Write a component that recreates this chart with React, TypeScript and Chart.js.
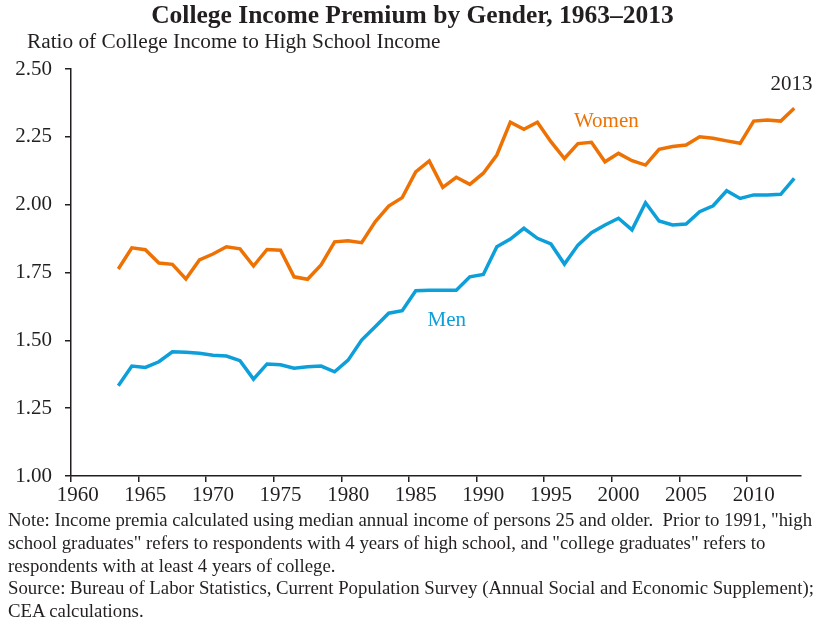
import React, { useEffect, useRef } from "react";
import { Chart, registerables } from "chart.js";

Chart.register(...registerables);

const years: number[] = [
  1963, 1964, 1965, 1966, 1967, 1968, 1969, 1970, 1971, 1972,
  1973, 1974, 1975, 1976, 1977, 1978, 1979, 1980, 1981, 1982,
  1983, 1984, 1985, 1986, 1987, 1988, 1989, 1990, 1991, 1992,
  1993, 1994, 1995, 1996, 1997, 1998, 1999, 2000, 2001, 2002,
  2003, 2004, 2005, 2006, 2007, 2008, 2009, 2010, 2011, 2012, 2013,
];

const women: number[] = [
  1.763, 1.841, 1.834, 1.785, 1.780, 1.726, 1.796, 1.818, 1.845, 1.837,
  1.774, 1.835, 1.832, 1.734, 1.725, 1.778, 1.863, 1.867, 1.860, 1.937,
  1.995, 2.026, 2.121, 2.161, 2.064, 2.101, 2.075, 2.116, 2.183, 2.304,
  2.278, 2.304, 2.232, 2.170, 2.225, 2.230, 2.158, 2.189, 2.162, 2.146,
  2.204, 2.214, 2.220, 2.250, 2.245, 2.235, 2.226, 2.308, 2.312, 2.308, 2.355,
];

const men: number[] = [
  1.333, 1.405, 1.400, 1.421, 1.458, 1.456, 1.452, 1.445, 1.442, 1.425,
  1.357, 1.413, 1.410, 1.397, 1.403, 1.405, 1.384, 1.427, 1.501, 1.550,
  1.600, 1.609, 1.683, 1.685, 1.685, 1.685, 1.734, 1.743, 1.845, 1.873,
  1.913, 1.876, 1.855, 1.781, 1.851, 1.897, 1.925, 1.950, 1.907, 2.007,
  1.940, 1.925, 1.929, 1.974, 1.996, 2.051, 2.023, 2.036, 2.036, 2.038, 2.097,
];

const xTickValues: number[] = [1960, 1965, 1970, 1975, 1980, 1985, 1990, 1995, 2000, 2005, 2010];
const yTickValues: number[] = [1.0, 1.25, 1.5, 1.75, 2.0, 2.25, 2.5];

const seriesNames: string[] = ["Women", "Men"];
const lastYearLabel = "2013";

const title = "College Income Premium by Gender, 1963\u20132013";
const subtitle = "Ratio of College Income to High School Income";
const noteLines: string[] = [
  'Note: Income premia calculated using median annual income of persons 25 and older.  Prior to 1991, "high',
  'school graduates" refers to respondents with 4 years of high school, and "college graduates" refers to',
  "respondents with at least 4 years of college.",
  "Source: Bureau of Labor Statistics, Current Population Survey (Annual Social and Economic Supplement);",
  "CEA calculations.",
];

const ORANGE = "#EE7203";
const BLUE = "#0C9FD9";
const INK = "#231F20";
const FONT = "'Liberation Serif', 'Times New Roman', serif";

const W = 825;
const H = 619;
const AREA = { left: 71, right: 801, top: 69, bottom: 476 };

const labelPlugin = {
  id: "seriesLabels",
  afterDatasetsDraw(chart: any) {
    const { ctx, scales } = chart;
    const xs = scales.x;
    const ys = scales.y;
    ctx.save();
    ctx.font = `21px ${FONT}`;
    ctx.textAlign = "center";
    ctx.textBaseline = "middle";
    ctx.fillStyle = ORANGE;
    ctx.fillText(seriesNames[0], xs.getPixelForValue(1999.6), ys.getPixelForValue(2.305));
    ctx.fillStyle = BLUE;
    ctx.fillText(seriesNames[1], xs.getPixelForValue(1987.8), ys.getPixelForValue(1.573));
    ctx.fillStyle = INK;
    ctx.fillText(lastYearLabel, xs.getPixelForValue(2013.3), ys.getPixelForValue(2.442));
    ctx.restore();
  },
};

export default function App() {
  const canvasRef = useRef<HTMLCanvasElement | null>(null);

  useEffect(() => {
    if (!canvasRef.current) return;
    const mk = (vals: number[]) => years.map((y, i) => ({ x: y + 0.5, y: vals[i] }));
    const chart = new Chart(canvasRef.current, {
      type: "line",
      data: {
        datasets: [
          {
            label: seriesNames[0],
            data: mk(women),
            borderColor: ORANGE,
            borderWidth: 3.5,
            pointRadius: 0,
            tension: 0,
            fill: false,
          },
          {
            label: seriesNames[1],
            data: mk(men),
            borderColor: BLUE,
            borderWidth: 3.5,
            pointRadius: 0,
            tension: 0,
            fill: false,
          },
        ],
      },
      options: {
        responsive: false,
        animation: false,
        events: [],
        layout: {
          padding: { left: 0, right: W - AREA.right, top: AREA.top, bottom: 0 },
        },
        plugins: {
          legend: { display: false },
          title: { display: false },
          tooltip: { enabled: false },
        },
        scales: {
          x: {
            type: "linear",
            min: 1960,
            max: 2014,
            afterBuildTicks: (scale: any) => {
              scale.ticks = xTickValues.map((v) => ({ value: v }));
            },
            afterFit: (scale: any) => {
              scale.height = H - AREA.bottom;
            },
            grid: {
              display: true,
              drawOnChartArea: false,
              drawTicks: true,
              tickLength: 6,
              color: INK,
              lineWidth: 1.5,
            },
            border: { display: true, color: INK, width: 1.5 },
            ticks: {
              color: INK,
              font: { family: FONT, size: 21 },
              padding: 1,
              labelOffset: 6.76,
              maxRotation: 0,
              autoSkip: false,
              callback: (v: any) => String(v),
            },
          },
          y: {
            type: "linear",
            min: 1,
            max: 2.5,
            afterBuildTicks: (scale: any) => {
              scale.ticks = yTickValues.map((v) => ({ value: v }));
            },
            afterFit: (scale: any) => {
              scale.width = AREA.left;
            },
            grid: {
              display: true,
              drawOnChartArea: false,
              drawTicks: true,
              tickLength: 6,
              color: INK,
              lineWidth: 1.5,
            },
            border: { display: true, color: INK, width: 1.5 },
            ticks: {
              color: INK,
              font: { family: FONT, size: 21 },
              padding: 13,
              autoSkip: false,
              callback: (v: any) => Number(v).toFixed(2),
            },
          },
        },
      },
      plugins: [labelPlugin],
    });
    return () => chart.destroy();
  }, []);

  return (
    <div
      style={{
        position: "absolute",
        left: 0,
        top: 0,
        width: W,
        height: H,
        background: "#ffffff",
        overflow: "hidden",
        fontFamily: FONT,
        color: INK,
      }}
    >
      <canvas ref={canvasRef} width={W} height={H} style={{ position: "absolute", left: 0, top: 0, width: W, height: H }} />
      <div
        style={{
          position: "absolute",
          left: 0,
          width: W,
          top: 1,
          textAlign: "center",
          fontWeight: "bold",
          fontSize: 25.5,
          lineHeight: "28px",
          whiteSpace: "nowrap",
        }}
      >
        {title}
      </div>
      <div
        style={{
          position: "absolute",
          left: 27,
          top: 29,
          fontSize: 21.3,
          lineHeight: "24px",
          whiteSpace: "nowrap",
        }}
      >
        {subtitle}
      </div>
      <div
        style={{
          position: "absolute",
          left: 8,
          top: 509,
          fontSize: 18.8,
          lineHeight: "22.8px",
          whiteSpace: "pre",
        }}
      >
        {noteLines.map((l, i) => (
          <div key={i}>{l}</div>
        ))}
      </div>
    </div>
  );
}
